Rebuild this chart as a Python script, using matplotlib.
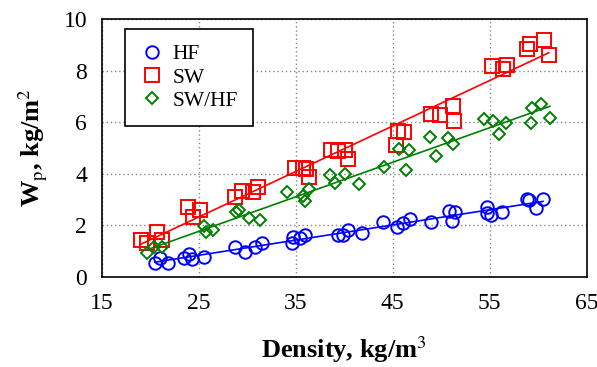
import numpy as np
import matplotlib
matplotlib.use("Agg")
import matplotlib.pyplot as plt

plt.rcParams['font.family'] = ['Liberation Serif', 'DejaVu Serif']
plt.rcParams['mathtext.fontset'] = 'stix'

hf_x = [20.5, 21.0, 21.8, 23.5, 24.0, 24.3, 25.5, 28.7, 29.8, 30.8, 31.5, 34.6, 34.75, 35.4, 36.0,
        39.4, 39.9, 40.4, 41.8, 44.0, 45.4, 46.1, 46.8, 49.0, 50.8, 51.4, 51.1, 54.7, 54.7, 55.1,
        56.3, 58.8, 59.1, 59.8, 60.5]
hf_y = [0.52, 0.71, 0.52, 0.71, 0.88, 0.68, 0.78, 1.17, 0.97, 1.17, 1.32, 1.32, 1.55, 1.49, 1.62,
        1.62, 1.62, 1.81, 1.69, 2.14, 1.94, 2.07, 2.23, 2.14, 2.56, 2.53, 2.18, 2.70, 2.49, 2.40,
        2.50, 3.01, 2.98, 2.66, 3.01]

sw_x = [19.1, 19.7, 20.7, 21.2, 23.9, 24.4, 25.1, 28.7, 29.5, 30.6, 31.1, 34.9, 35.8, 36.1, 36.4,
        38.6, 39.4, 40.1, 40.4, 45.3, 45.5, 46.2, 49.0, 49.9, 51.2, 51.3, 55.2, 56.4, 56.8, 58.8,
        59.2, 60.6, 61.1]
sw_y = [1.43, 1.30, 1.75, 1.43, 2.70, 2.33, 2.59, 3.08, 3.34, 3.30, 3.50, 4.23, 4.21, 4.20, 3.87,
        4.94, 4.90, 4.94, 4.59, 5.10, 5.66, 5.62, 6.34, 6.28, 6.63, 6.03, 8.19, 8.07, 8.21, 8.83,
        9.05, 9.18, 8.62]

swhf_x = [19.7, 20.4, 21.2, 25.5, 25.8, 26.5, 28.8, 29.2, 30.2, 31.3, 34.1, 35.8, 36.0, 36.4, 38.5,
          39.1, 40.1, 41.5, 44.1, 45.6, 46.7, 46.4, 48.8, 49.5, 50.7, 51.2, 54.4, 55.3, 56.0, 56.7,
          59.4, 59.3, 60.3, 61.2]
swhf_y = [0.92, 1.17, 1.15, 1.97, 1.72, 1.81, 2.50, 2.58, 2.29, 2.20, 3.30, 3.14, 2.96, 3.41, 3.97,
          3.64, 4.00, 3.61, 4.26, 4.97, 4.94, 4.15, 5.42, 4.70, 5.40, 5.16, 6.13, 6.05, 5.56, 5.97,
          6.57, 5.97, 6.70, 6.18]

x_ticks = [15, 25, 35, 45, 55, 65]
y_ticks = [0, 2, 4, 6, 8, 10]

fig = plt.figure(figsize=(5.97, 3.67), dpi=100)
ax = fig.add_axes([0.1704, 0.246, 0.8123, 0.7014])

series = [
    (hf_x, hf_y, 'HF', '#0000ff', 'o', 9.0),
    (sw_x, sw_y, 'SW', '#ff0000', 's', 9.5),
    (swhf_x, swhf_y, 'SW/HF', '#008000', 'D', 6.5),
]
for xs, ys, lab, col, mk, ms in series:
    xs = np.array(xs); ys = np.array(ys)
    ax.plot(xs, ys, linestyle='none', marker=mk, markersize=ms, markerfacecolor='none',
            markeredgecolor=col, markeredgewidth=1.4, label=lab)
    k, b = np.polyfit(xs, ys, 1)
    xl = np.array([xs.min(), xs.max()])
    ax.plot(xl, k * xl + b, color=col, linewidth=1.2)

ax.set_xlim(15, 65)
ax.set_ylim(0, 10)
ax.set_xticks(x_ticks)
ax.set_yticks(y_ticks)
ax.tick_params(axis='both', length=0, labelsize=17)
ax.tick_params(axis='x', pad=12)
ax.tick_params(axis='y', pad=10.5)
ax.grid(True, linestyle=(0, (1, 2)), color='#888888', linewidth=1.0)
for s in ax.spines.values():
    s.set_linewidth(1.2)

ax.set_xlabel('Density, kg/m$^{3}$', fontsize=19, fontweight='bold', labelpad=14)
ax.set_ylabel('W$_{\\mathrm{p}}$, kg/m$^{2}$', fontsize=19, fontweight='bold', labelpad=10)

leg = ax.legend(loc='upper left', bbox_to_anchor=(0.048, 0.962), fontsize=15.5, frameon=True,
                fancybox=False, edgecolor='black', framealpha=1, handlelength=1.1,
                handletextpad=0.4, borderpad=0.7, labelspacing=0.15, borderaxespad=0)
leg.get_frame().set_linewidth(1.2)

fig.savefig('out.png', dpi=100)
